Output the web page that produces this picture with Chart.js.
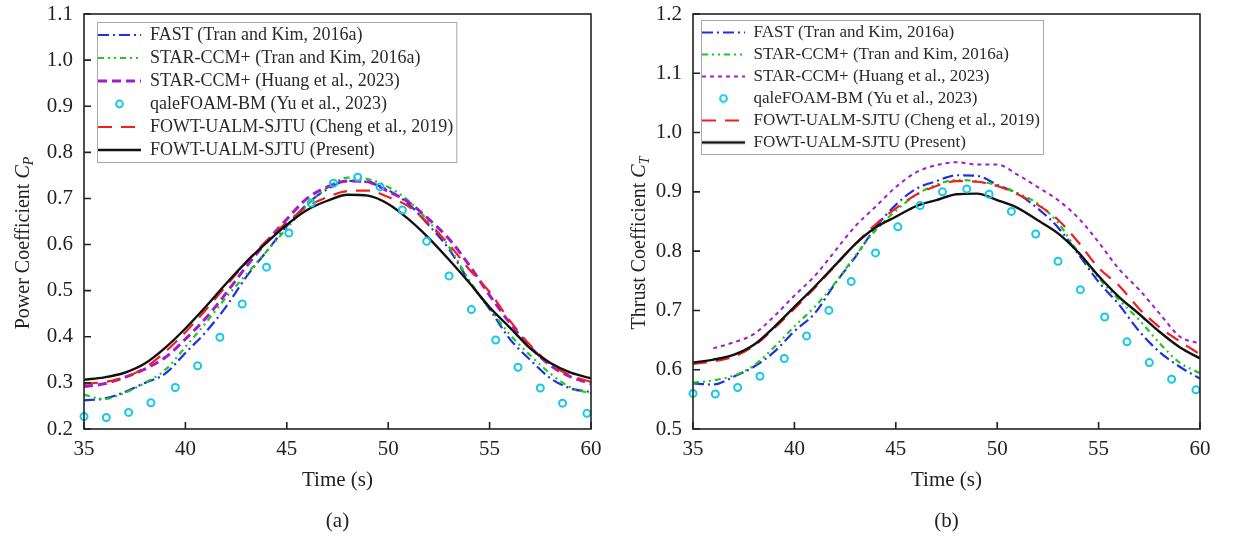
<!DOCTYPE html>
<html>
<head>
<meta charset="utf-8">
<title>Cp and Ct time histories</title>
<script src="https://cdn.jsdelivr.net/npm/chart.js@4.4.1/dist/chart.umd.min.js"></script>
<style>
  html, body { margin: 0; padding: 0; background: #fff; }
  #wrap { position: relative; width: 1236px; height: 541px; overflow: hidden; }
  .panel { position: absolute; top: 0; width: 618px; height: 541px; }
</style>
</head>
<body>
<div id="wrap">
  <div class="panel" style="left:0"><canvas id="cpChart"></canvas></div>
  <div class="panel" style="left:618px"><canvas id="ctChart"></canvas></div>
</div>
<script>
// time axis for the line series (s)
const time = [35, 36, 37, 38, 39, 40, 41, 42, 43, 44, 45, 46, 47, 48, 49, 50, 51, 52, 53, 54, 55, 56, 57, 58, 59, 60];
// time of the qaleFOAM markers (s)
const foamTime = [35.0, 36.1, 37.2, 38.3, 39.5, 40.6, 41.7, 42.8, 44.0, 45.1, 46.2, 47.3, 48.5, 49.6, 50.7, 51.9, 53.0, 54.1, 55.3, 56.4, 57.5, 58.6, 59.8];

const seriesNames = [
  'FAST (Tran and Kim, 2016a)',
  'STAR-CCM+ (Tran and Kim, 2016a)',
  'STAR-CCM+ (Huang et al., 2023)',
  'qaleFOAM-BM (Yu et al., 2023)',
  'FOWT-UALM-SJTU (Cheng et al., 2019)',
  'FOWT-UALM-SJTU (Present)'
];

// (a) power coefficient
const cpFast      = [0.262, 0.266, 0.280, 0.300, 0.320, 0.365, 0.410, 0.465, 0.530, 0.585, 0.640, 0.688, 0.720, 0.738, 0.735, 0.718, 0.688, 0.642, 0.590, 0.520, 0.460, 0.395, 0.350, 0.310, 0.288, 0.280];
const cpStarTran  = [0.274, 0.265, 0.278, 0.300, 0.328, 0.378, 0.430, 0.485, 0.535, 0.585, 0.635, 0.685, 0.723, 0.745, 0.742, 0.725, 0.695, 0.650, 0.595, 0.522, 0.462, 0.405, 0.360, 0.320, 0.290, 0.277];
const cpStarHuang = [0.292, 0.298, 0.312, 0.330, 0.355, 0.395, 0.440, 0.494, 0.552, 0.606, 0.655, 0.700, 0.725, 0.738, 0.736, 0.715, 0.692, 0.655, 0.612, 0.555, 0.490, 0.430, 0.378, 0.338, 0.313, 0.298];
const cpFoam      = [0.227, 0.225, 0.236, 0.257, 0.290, 0.337, 0.399, 0.471, 0.551, 0.625, 0.690, 0.733, 0.746, 0.725, 0.675, 0.607, 0.532, 0.459, 0.393, 0.334, 0.289, 0.256, 0.234];
const cpCheng     = [0.298, 0.302, 0.312, 0.333, 0.367, 0.410, 0.458, 0.510, 0.562, 0.608, 0.648, 0.682, 0.703, 0.716, 0.717, 0.703, 0.683, 0.645, 0.600, 0.546, 0.497, 0.435, 0.382, 0.341, 0.316, 0.302];
const cpPresent   = [0.307, 0.312, 0.322, 0.342, 0.376, 0.418, 0.465, 0.515, 0.562, 0.604, 0.643, 0.675, 0.695, 0.708, 0.706, 0.688, 0.655, 0.614, 0.567, 0.517, 0.464, 0.420, 0.375, 0.343, 0.322, 0.310];

// (b) thrust coefficient
const ctFast      = [0.577, 0.575, 0.588, 0.605, 0.630, 0.665, 0.695, 0.745, 0.790, 0.840, 0.878, 0.905, 0.918, 0.928, 0.927, 0.912, 0.897, 0.872, 0.840, 0.795, 0.748, 0.710, 0.665, 0.630, 0.605, 0.585];
const ctStarTran  = [0.578, 0.582, 0.590, 0.607, 0.638, 0.673, 0.706, 0.746, 0.792, 0.835, 0.868, 0.895, 0.912, 0.920, 0.918, 0.911, 0.898, 0.880, 0.848, 0.798, 0.755, 0.718, 0.684, 0.645, 0.612, 0.594];
const ctStarHuang = [null, 0.636, 0.646, 0.660, 0.690, 0.725, 0.758, 0.800, 0.842, 0.875, 0.908, 0.933, 0.945, 0.950, 0.946, 0.946, 0.929, 0.908, 0.886, 0.856, 0.815, 0.770, 0.735, 0.695, 0.656, 0.644];
const ctFoam      = [0.560, 0.559, 0.570, 0.589, 0.619, 0.657, 0.700, 0.749, 0.797, 0.841, 0.877, 0.900, 0.905, 0.896, 0.867, 0.829, 0.783, 0.735, 0.689, 0.647, 0.612, 0.584, 0.566];
const ctCheng     = [0.610, 0.614, 0.622, 0.640, 0.670, 0.703, 0.738, 0.775, 0.812, 0.845, 0.872, 0.895, 0.910, 0.918, 0.917, 0.910, 0.896, 0.878, 0.853, 0.815, 0.772, 0.742, 0.703, 0.672, 0.648, 0.626];
const ctPresent   = [0.612, 0.617, 0.625, 0.642, 0.672, 0.706, 0.740, 0.776, 0.812, 0.840, 0.858, 0.876, 0.886, 0.896, 0.897, 0.886, 0.873, 0.852, 0.830, 0.798, 0.758, 0.723, 0.694, 0.664, 0.638, 0.619];

const cpTicks = [0.2, 0.3, 0.4, 0.5, 0.6, 0.7, 0.8, 0.9, 1.0, 1.1];
const ctTicks = [0.5, 0.6, 0.7, 0.8, 0.9, 1.0, 1.1, 1.2];

const FONT = '"Liberation Serif", "Times New Roman", serif';
Chart.defaults.font.family = FONT;
Chart.defaults.color = '#222';

const pairs = (xs, ys) => xs.map((x, i) => ({ x: x, y: ys[i] }));

// small picture used as legend sample
function sample(color, dash, width, circle) {
  const c = document.createElement('canvas');
  c.width = 43; c.height = 10;
  const g = c.getContext('2d');
  g.strokeStyle = color;
  g.lineWidth = width;
  g.beginPath();
  if (circle) {
    g.arc(21.5, 5, 3.4, 0, Math.PI * 2);
  } else {
    g.setLineDash(dash);
    g.moveTo(0, 5); g.lineTo(43, 5);
  }
  g.stroke();
  return c;
}

function lineSet(label, ys, color, dash, width, order) {
  return {
    label: label, data: pairs(time, ys), borderColor: color, backgroundColor: color,
    borderDash: dash, borderWidth: width, pointRadius: 0, fill: false,
    cubicInterpolationMode: 'monotone', order: order,
    legendSample: sample(color, dash, width, false)
  };
}

// box, inward ticks, axis titles and legend frame
const decor = {
  id: 'decor',
  afterUpdate(chart, args, o) {
    // put the legend inside the plot, near the top-left corner
    const lg = chart.legend, area = chart.chartArea;
    const ddx = area.left + o.dx - lg.left, ddy = area.top + o.dy - lg.top;
    lg.left += ddx; lg.top += ddy;
    lg.right = area.right; lg.bottom = area.bottom;
    lg.legendHitBoxes.forEach(h => { h.left += ddx; h.top += ddy; });
  },
  afterDraw(chart, args, o) {
    const ctx = chart.ctx;
    const { left, top, right, bottom } = chart.chartArea;
    ctx.save();
    // legend frame
    const hb = chart.legend.legendHitBoxes;
    const fl = Math.min(...hb.map(h => h.left)) - 1;
    const fr = Math.max(...hb.map(h => h.left + h.width)) + 3;
    const ft = hb[0].top - 4;
    const fb = hb[hb.length - 1].top + hb[hb.length - 1].height + 3;
    ctx.strokeStyle = '#a8a8a8'; ctx.lineWidth = 1;
    ctx.strokeRect(fl + 0.5, ft + 0.5, fr - fl, fb - ft);
    // axes box
    ctx.strokeStyle = '#222'; ctx.lineWidth = 1.6;
    ctx.strokeRect(left, top, right - left, bottom - top);
    // inward ticks
    const xs = chart.scales.x, ys = chart.scales.y;
    ctx.beginPath();
    xs.ticks.forEach(t => {
      const px = xs.getPixelForValue(t.value);
      ctx.moveTo(px, bottom); ctx.lineTo(px, bottom - 7);
    });
    ys.ticks.forEach(t => {
      const py = ys.getPixelForValue(t.value);
      ctx.moveTo(left, py); ctx.lineTo(left + 7, py);
    });
    ctx.stroke();
    // x title and panel label
    const cx = (left + right) / 2;
    ctx.fillStyle = '#222';
    ctx.textAlign = 'center'; ctx.textBaseline = 'middle';
    ctx.font = '21px ' + FONT;
    ctx.fillText('Time (s)', cx, 480);
    ctx.fillText(o.panel, cx, 521);
    // y title with italic C and subscript
    ctx.translate(o.yTitleX, 243);
    ctx.rotate(-Math.PI / 2);
    ctx.textAlign = 'left';
    const main = o.yTitle + ' ';
    ctx.font = '20px ' + FONT;
    const w1 = ctx.measureText(main).width;
    ctx.font = 'italic 20px ' + FONT;
    const w2 = ctx.measureText('C').width;
    ctx.font = 'italic 14px ' + FONT;
    const w3 = ctx.measureText(o.sub).width;
    let x0 = -(w1 + w2 + w3) / 2;
    ctx.font = '20px ' + FONT;
    ctx.fillText(main, x0, 0); x0 += w1;
    ctx.font = 'italic 20px ' + FONT;
    ctx.fillText('C', x0, 0); x0 += w2;
    ctx.font = 'italic 14px ' + FONT;
    ctx.fillText(o.sub, x0, 5);
    ctx.restore();
  }
};

function makeChart(id, p) {
  const datasets = [
    lineSet(seriesNames[0], p.fast, '#1f2fe6', [11, 4, 2, 4], 2.2, 5),
    lineSet(seriesNames[1], p.starTran, '#1ec81e', [6, 4, 2, 4, 2, 4], 2.2, 4),
    lineSet(seriesNames[2], p.starHuang, '#a21cc8', p.huangDash, p.huangWidth, 3),
    {
      label: seriesNames[3], data: pairs(foamTime, p.foam), showLine: false,
      pointRadius: 3.5, pointBorderWidth: 2, pointBorderColor: '#16c8e8',
      pointBackgroundColor: 'rgba(255,255,255,0)', borderColor: '#16c8e8',
      backgroundColor: '#16c8e8', order: 0, clip: 6,
      legendSample: sample('#16c8e8', [], 2, true)
    },
    lineSet(seriesNames[4], p.cheng, '#f02020', [14, 9], 2.2, 2),
    lineSet(seriesNames[5], p.present, '#111', [], 2.4, 1)
  ];

  return new Chart(document.getElementById(id), {
    type: 'line',
    data: { datasets: datasets },
    options: {
      responsive: true,
      maintainAspectRatio: false,
      animation: false,
      layout: { padding: { left: 0, right: p.padRight, top: 14, bottom: 0 } },
      scales: {
        x: {
          type: 'linear', min: 35, max: 60,
          ticks: { stepSize: 5, padding: 8, maxRotation: 0, font: { size: 21 }, color: '#222' },
          grid: { display: false, drawTicks: false },
          border: { display: false },
          afterFit(s) { s.height = 112; }
        },
        y: {
          type: 'linear', min: p.ticks[0], max: p.ticks[p.ticks.length - 1],
          afterBuildTicks(s) { s.ticks = p.ticks.map(v => ({ value: v })); },
          ticks: { padding: 11, font: { size: 21 }, color: '#222', callback: v => v.toFixed(1) },
          grid: { display: false, drawTicks: false },
          border: { display: false },
          afterFit(s) { s.width = p.axisWidth; s.paddingTop = 0; s.paddingBottom = 0; }
        }
      },
      plugins: {
        tooltip: { enabled: false },
        legend: {
          position: 'chartArea',
          align: 'start',
          fullSize: false,
          labels: {
            usePointStyle: true,
            pointStyleWidth: 43,
            padding: 5,
            color: '#2a2a2a',
            font: { size: p.legendSize },
            sort: (a, b) => a.datasetIndex - b.datasetIndex,
            generateLabels(chart) {
              const items = Chart.defaults.plugins.legend.labels.generateLabels(chart);
              items.forEach(it => { it.pointStyle = chart.data.datasets[it.datasetIndex].legendSample; });
              return items;
            }
          }
        },
        decor: p.decor
      }
    },
    plugins: [decor]
  });
}

makeChart('cpChart', {
  fast: cpFast, starTran: cpStarTran, starHuang: cpStarHuang, foam: cpFoam,
  cheng: cpCheng, present: cpPresent, ticks: cpTicks,
  huangDash: [9, 5], huangWidth: 3,
  axisWidth: 84, padRight: 27, legendSize: 18,
  decor: { dx: 9, dy: 7, panel: '(a)', yTitle: 'Power Coefficient', sub: 'P', yTitleX: 24 }
});

makeChart('ctChart', {
  fast: ctFast, starTran: ctStarTran, starHuang: ctStarHuang, foam: ctFoam,
  cheng: ctCheng, present: ctPresent, ticks: ctTicks,
  huangDash: [4, 4], huangWidth: 2,
  axisWidth: 75, padRight: 36, legendSize: 17,
  decor: { dx: 4, dy: 5, panel: '(b)', yTitle: 'Thrust Coefficient', sub: 'T', yTitleX: 22 }
});
</script>
</body>
</html>
